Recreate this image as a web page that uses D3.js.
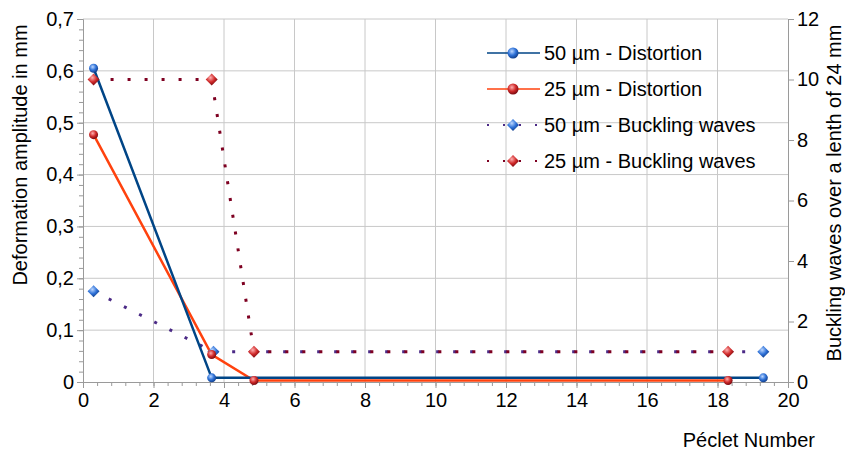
<!DOCTYPE html>
<html>
<head>
<meta charset="utf-8">
<script src="https://cdn.jsdelivr.net/npm/d3@7"></script>
<style>
  body { margin: 0; background: #fff; }
  text { font-family: 'Liberation Sans', Arial, sans-serif; fill: #000; }
</style>
</head>
<body>
<div class="chart"></div>
<script>
// data
const distortion50 = [[0.3, 0.605], [3.65, 0.008], [19.3, 0.008]];
const distortion25 = [[0.3, 0.477], [3.65, 0.053], [4.85, 0.003], [18.3, 0.003]];
const waves50 = [[0.3, 3], [3.7, 1], [19.3, 1]];
const waves25 = [[0.3, 10], [3.65, 10], [4.85, 1], [18.3, 1]];
const xTicks = [0, 2, 4, 6, 8, 10, 12, 14, 16, 18, 20];
const yLeftTicks = [0, 0.1, 0.2, 0.3, 0.4, 0.5, 0.6, 0.7];
const yRightTicks = [0, 2, 4, 6, 8, 10, 12];
const legendNames = ['50 µm - Distortion', '25 µm - Distortion', '50 µm - Buckling waves', '25 µm - Buckling waves'];

function displayChart() {
  const w = 845;
  const h = 450;
  const margin = { top: 19, right: 57, bottom: 68, left: 83 };
  const fontSize = '20px';

  const xScale = d3.scaleLinear()
    .domain([0, 20])
    .range([margin.left, w - margin.right]);
  const yLeft = d3.scaleLinear()
    .domain([0, 0.7])
    .range([h - margin.bottom, margin.top]);
  const yRight = d3.scaleLinear()
    .domain([0, 12])
    .range([h - margin.bottom, margin.top]);

  const svg = d3.select('.chart')
    .append('svg')
    .attr('width', w)
    .attr('height', h);

  const defs = svg.append('defs');
  function grad(id, light, mid, dark) {
    const g = defs.append('radialGradient')
      .attr('id', id)
      .attr('cx', '40%').attr('cy', '35%').attr('r', '65%');
    g.append('stop').attr('offset', '0%').attr('stop-color', light);
    g.append('stop').attr('offset', '55%').attr('stop-color', mid);
    g.append('stop').attr('offset', '100%').attr('stop-color', dark);
  }
  grad('blueBall', '#bcd7ff', '#2f72d8', '#123f8c');
  grad('redBall', '#ffb0b0', '#d02a2a', '#7a0a10');

  const fmt = d3.format('.1f');
  const comma = (d) => fmt(d).replace('.', ',');

  // grid
  svg.append('g')
    .selectAll('line')
    .data(yLeftTicks.slice(1))
    .enter()
    .append('line')
    .attr('x1', xScale(0)).attr('x2', xScale(20))
    .attr('y1', (d) => yLeft(d)).attr('y2', (d) => yLeft(d))
    .attr('stroke', '#c8c8c8');
  svg.append('g')
    .selectAll('line')
    .data(xTicks.slice(1, -1))
    .enter()
    .append('line')
    .attr('x1', (d) => xScale(d)).attr('x2', (d) => xScale(d))
    .attr('y1', yLeft(0)).attr('y2', yLeft(0.7))
    .attr('stroke', '#c8c8c8');

  // axes
  const axisColor = '#9a9a9a';
  svg.append('g')
    .attr('transform', `translate(0, ${yLeft(0)})`)
    .call(d3.axisBottom(xScale).tickValues(xTicks).tickSize(6).tickPadding(5));
  svg.append('g')
    .attr('transform', `translate(0, ${yLeft(0)})`)
    .call(d3.axisBottom(xScale).tickValues(d3.range(0, 20.01, 0.4)).tickSize(4).tickFormat(''))
    .call((g) => g.select('.domain').remove());
  svg.append('g')
    .attr('transform', `translate(${xScale(0)}, 0)`)
    .call(d3.axisLeft(yLeft).tickValues(yLeftTicks).tickFormat((d) => d === 0 ? '0' : comma(d)).tickSize(6).tickPadding(3));
  svg.append('g')
    .attr('transform', `translate(${xScale(0)}, 0)`)
    .call(d3.axisLeft(yLeft).tickValues(d3.range(0, 0.701, 0.02)).tickSize(4).tickFormat(''))
    .call((g) => g.select('.domain').remove());
  svg.append('g')
    .attr('transform', `translate(${xScale(20)}, 0)`)
    .call(d3.axisRight(yRight).tickValues(yRightTicks).tickSize(6).tickPadding(3));

  svg.selectAll('.domain, .tick line').attr('stroke', axisColor);
  svg.selectAll('.tick text').style('font-size', fontSize).attr('fill', '#000');

  // axis titles
  svg.append('text')
    .attr('transform', 'rotate(-90)')
    .attr('x', -155)
    .attr('y', 27)
    .attr('text-anchor', 'middle')
    .style('font-size', fontSize)
    .text('Deformation amplitude in mm');
  svg.append('text')
    .attr('transform', 'rotate(-90)')
    .attr('x', -193)
    .attr('y', 841)
    .attr('text-anchor', 'middle')
    .style('font-size', fontSize)
    .text('Buckling waves over a lenth of 24 mm');
  svg.append('text')
    .attr('x', 815)
    .attr('y', 447)
    .attr('text-anchor', 'end')
    .style('font-size', fontSize)
    .text('Péclet Number');

  const lineL = d3.line().x((d) => xScale(d[0])).y((d) => yLeft(d[1]));
  const lineR = d3.line().x((d) => xScale(d[0])).y((d) => yRight(d[1]));

  // dotted buckling lines
  const dots = '3,14';
  svg.append('path')
    .datum(waves50)
    .attr('d', lineR)
    .attr('fill', 'none')
    .attr('stroke', '#4b2a86')
    .attr('stroke-width', 3)
    .attr('stroke-dasharray', dots);
  svg.append('path')
    .datum(waves25)
    .attr('d', lineR)
    .attr('fill', 'none')
    .attr('stroke', '#7e0021')
    .attr('stroke-width', 3)
    .attr('stroke-dasharray', dots);

  // distortion lines
  svg.append('path')
    .datum(distortion25)
    .attr('d', lineL)
    .attr('fill', 'none')
    .attr('stroke', '#ff420e')
    .attr('stroke-width', 2.5);
  svg.append('path')
    .datum(distortion50)
    .attr('d', lineL)
    .attr('fill', 'none')
    .attr('stroke', '#004586')
    .attr('stroke-width', 2.5);

  const diamond = 'M0,-6L6,0L0,6L-6,0Z';

  svg.append('g')
    .selectAll('path')
    .data(waves50)
    .enter()
    .append('path')
    .attr('d', diamond)
    .attr('transform', (d) => `translate(${xScale(d[0])}, ${yRight(d[1])})`)
    .attr('fill', 'url(#blueBall)');
  svg.append('g')
    .selectAll('path')
    .data(waves25)
    .enter()
    .append('path')
    .attr('d', diamond)
    .attr('transform', (d) => `translate(${xScale(d[0])}, ${yRight(d[1])})`)
    .attr('fill', 'url(#redBall)');
  svg.append('g')
    .selectAll('circle')
    .data(distortion25)
    .enter()
    .append('circle')
    .attr('cx', (d) => xScale(d[0]))
    .attr('cy', (d) => yLeft(d[1]))
    .attr('r', 4.5)
    .attr('fill', 'url(#redBall)');
  svg.append('g')
    .selectAll('circle')
    .data(distortion50)
    .enter()
    .append('circle')
    .attr('cx', (d) => xScale(d[0]))
    .attr('cy', (d) => yLeft(d[1]))
    .attr('r', 4.5)
    .attr('fill', 'url(#blueBall)');

  // legend
  const legendStyle = [
    { color: '#004586', fill: 'url(#blueBall)', dotted: false },
    { color: '#ff420e', fill: 'url(#redBall)', dotted: false },
    { color: '#4b2a86', fill: 'url(#blueBall)', dotted: true },
    { color: '#7e0021', fill: 'url(#redBall)', dotted: true }
  ];
  const legend = svg.append('g')
    .attr('transform', 'translate(487, 53)');
  const item = legend.selectAll('g')
    .data(legendNames)
    .enter()
    .append('g')
    .attr('transform', (d, i) => `translate(0, ${i * 36})`);
  item.append('line')
    .attr('x1', 0).attr('x2', 53)
    .attr('stroke', (d, i) => legendStyle[i].color)
    .attr('stroke-width', (d, i) => legendStyle[i].dotted ? 2 : 1.5)
    .attr('stroke-dasharray', (d, i) => legendStyle[i].dotted ? '2,14' : null);
  item.append('circle')
    .filter((d, i) => !legendStyle[i].dotted)
    .attr('cx', 26)
    .attr('r', 5.5)
    .attr('fill', (d, i) => legendStyle[i].fill);
  item.filter((d, i) => legendStyle[i].dotted)
    .append('path')
    .attr('d', diamond)
    .attr('transform', 'translate(26, 0)')
    .attr('fill', (d, i) => legendStyle[i + 2].fill);
  item.append('text')
    .attr('x', 57)
    .attr('dy', '0.35em')
    .style('font-size', fontSize)
    .text((d) => d);
}

displayChart();
</script>
</body>
</html>
